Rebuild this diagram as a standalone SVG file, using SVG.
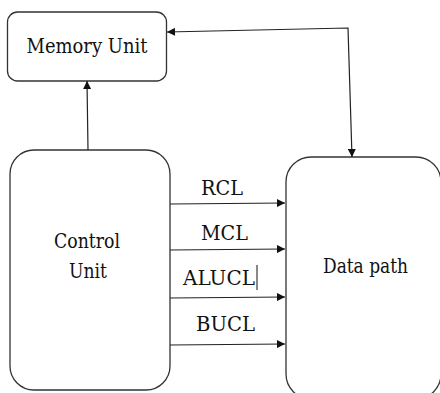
<svg xmlns="http://www.w3.org/2000/svg" width="440" height="393" viewBox="0 0 440 393">
<style>
.box{fill:#fff;stroke:#333;stroke-width:1.3}
.ln{fill:none;stroke:#222;stroke-width:1.2}
.t{font-family:"DejaVu Serif","Liberation Serif",serif;font-size:21px;fill:#111;text-anchor:middle}
</style>
<defs>
<marker id="ah" viewBox="0 0 10 10" refX="10" refY="5" markerWidth="10" markerHeight="8" markerUnits="userSpaceOnUse" orient="auto-start-reverse">
<path d="M0,0 L10,5 L0,10 Z" fill="#111"/>
</marker>
</defs>
<rect width="440" height="393" fill="#fff"/>
<g id="memory-unit">
<rect class="box" x="7.5" y="12" width="159" height="69" rx="10"/>
<text class="t" x="87" y="53" textLength="121" lengthAdjust="spacingAndGlyphs">Memory Unit</text>
</g>
<g id="control-unit">
<rect class="box" x="10" y="150" width="160" height="240" rx="24"/>
<text class="t" x="87" y="248" textLength="66" lengthAdjust="spacingAndGlyphs">Control</text>
<text class="t" x="88" y="278" textLength="38" lengthAdjust="spacingAndGlyphs">Unit</text>
</g>
<g id="data-path">
<rect class="box" x="286" y="157" width="155" height="242" rx="25"/>
<text class="t" x="365.5" y="273" textLength="85" lengthAdjust="spacingAndGlyphs">Data path</text>
</g>
<g id="connectors">
<path class="ln" d="M88,150 L87,81" marker-end="url(#ah)"/>
<path class="ln" d="M167,32 L348,28 L352,157" marker-start="url(#ah)" marker-end="url(#ah)"/>
<path class="ln" d="M170,204 L285,203" marker-end="url(#ah)"/>
<path class="ln" d="M170,250 L285,249" marker-end="url(#ah)"/>
<path class="ln" d="M170,298 L285,297" marker-end="url(#ah)"/>
<path class="ln" d="M170,345 L285,344" marker-end="url(#ah)"/>
<text class="t" x="222" y="195" textLength="42" lengthAdjust="spacingAndGlyphs">RCL</text>
<text class="t" x="224.5" y="240" textLength="47" lengthAdjust="spacingAndGlyphs">MCL</text>
<text class="t" x="219" y="285" textLength="72" lengthAdjust="spacingAndGlyphs">ALUCL</text>
<line x1="257" y1="265" x2="257" y2="290" stroke="#111" stroke-width="1"/>
<text class="t" x="225.5" y="331" textLength="59" lengthAdjust="spacingAndGlyphs">BUCL</text>
</g>
</svg>
